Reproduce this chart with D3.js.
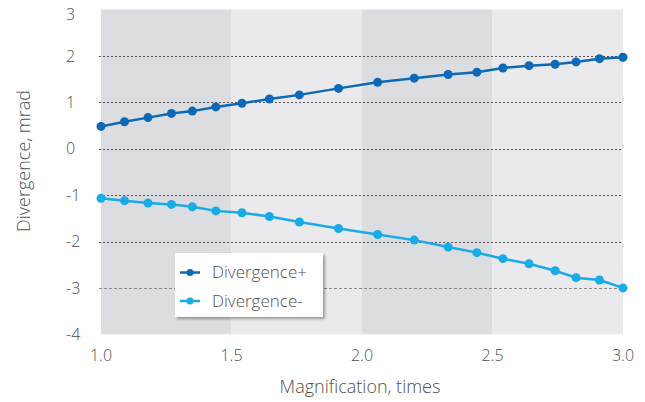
<!DOCTYPE html>
<html>
<head>
<meta charset="utf-8">
<script src="https://cdn.jsdelivr.net/npm/d3@7"></script>
<style>
    body { margin: 0; background: #fff; }
    text { font-family: "Open Sans", Lato, sans-serif; font-weight: 300; fill: #4f4f4f; }
</style>
</head>
<body>
<div id="chart"></div>
<script>
// magnification (times)
const magnification = [1.0, 1.09, 1.18, 1.27, 1.35, 1.44, 1.54, 1.645, 1.76, 1.91,
    2.06, 2.2, 2.33, 2.44, 2.54, 2.64, 2.74, 2.82, 2.91, 3.0];
// divergence, mrad
const divergencePlus = [0.48, 0.58, 0.67, 0.76, 0.81, 0.90, 0.98, 1.07, 1.16, 1.30,
    1.43, 1.52, 1.60, 1.65, 1.74, 1.79, 1.82, 1.87, 1.94, 1.97];
const divergenceMinus = [-1.07, -1.12, -1.17, -1.20, -1.25, -1.34, -1.38, -1.46, -1.58, -1.72,
    -1.85, -1.97, -2.12, -2.24, -2.37, -2.48, -2.63, -2.78, -2.83, -3.00];
const seriesNames = ["Divergence+", "Divergence-"];
const xTicks = [1.0, 1.5, 2.0, 2.5, 3.0];
const yTicks = [3, 2, 1, 0, -1, -2, -3, -4];
const bands = [[1.0, 1.5], [1.5, 2.0], [2.0, 2.5], [2.5, 3.0]];

const W = 645, H = 402;
const colors = ["#0b69b7", "#19aae8"];

const svg = d3.select("#chart").append("svg")
    .attr("width", W)
    .attr("height", H);

const x = d3.scaleLinear().domain([1, 3]).range([101, 623]);
const y = d3.scaleLinear().domain([-4, 3]).range([334.3, 9.5]);

// alternating background bands
svg.selectAll(".band")
    .data(bands)
    .enter().append("rect")
    .attr("class", "band")
    .attr("x", d => x(d[0]))
    .attr("width", d => x(d[1]) - x(d[0]))
    .attr("y", y(3))
    .attr("height", y(-4) - y(3))
    .attr("fill", (d, i) => i % 2 === 0 ? "#dcdde0" : "#eaeaec");

// dotted grid lines
svg.selectAll(".grid")
    .data(yTicks.filter(d => d < 3 && d > -4))
    .enter().append("line")
    .attr("class", "grid")
    .attr("x1", x(1) - 2)
    .attr("x2", x(3))
    .attr("y1", d => Math.round(y(d)) + 0.5)
    .attr("y2", d => Math.round(y(d)) + 0.5)
    .attr("stroke", d => d === -3 ? "#8a8a8a" : "#555")
    .attr("stroke-width", 1)
    .attr("stroke-dasharray", d => d === -3 ? "3,2" : "2,2");

// y tick labels (left aligned like the original, top one kept inside the page)
svg.selectAll(".ylab")
    .data(yTicks)
    .enter().append("text")
    .attr("class", "ylab")
    .attr("x", 66)
    .attr("y", d => Math.max(y(d), 14))
    .attr("dy", "0.35em")
    .style("font-size", "16px")
    .text(d => d);

// x tick labels
svg.selectAll(".xlab")
    .data(xTicks)
    .enter().append("text")
    .attr("class", "xlab")
    .attr("x", d => x(d))
    .attr("y", 355)
    .attr("dy", "0.35em")
    .attr("text-anchor", "middle")
    .style("font-size", "16px")
    .text(d => d.toFixed(1));

// axis titles
svg.append("text")
    .attr("x", 360)
    .attr("y", 387)
    .attr("dy", "0.35em")
    .attr("text-anchor", "middle")
    .style("font-size", "18px")
    .text("Magnification, times");

svg.append("text")
    .attr("transform", "translate(24,161) rotate(-90)")
    .attr("dy", "0.35em")
    .attr("text-anchor", "middle")
    .style("font-size", "18px")
    .text("Divergence, mrad");

// series
const series = [divergencePlus, divergenceMinus].map((vals, i) => ({
    name: seriesNames[i],
    color: colors[i],
    points: vals.map((v, j) => [magnification[j], v])
}));

const line = d3.line()
    .x(d => x(d[0]))
    .y(d => y(d[1]));

const g = svg.selectAll(".series")
    .data(series)
    .enter().append("g")
    .attr("class", "series");

g.append("path")
    .attr("d", d => line(d.points))
    .attr("fill", "none")
    .attr("stroke", d => d.color)
    .attr("stroke-width", 2.5);

g.selectAll("circle")
    .data(d => d.points.map(p => ({p: p, color: d.color})))
    .enter().append("circle")
    .attr("cx", d => x(d.p[0]))
    .attr("cy", d => y(d.p[1]))
    .attr("r", 4.5)
    .attr("fill", d => d.color);

// legend
const defs = svg.append("defs");
const filter = defs.append("filter").attr("id", "shadow")
    .attr("x", "-10%").attr("y", "-10%").attr("width", "130%").attr("height", "130%");
filter.append("feDropShadow")
    .attr("dx", 2).attr("dy", 2).attr("stdDeviation", 1.5)
    .attr("flood-color", "#000").attr("flood-opacity", 0.35);

const legend = svg.append("g").attr("transform", "translate(175,253)");
legend.append("rect")
    .attr("width", 148)
    .attr("height", 64)
    .attr("fill", "#fff")
    .attr("filter", "url(#shadow)");

const items = legend.selectAll(".item")
    .data(series)
    .enter().append("g")
    .attr("class", "item")
    .attr("transform", (d, i) => `translate(0, ${19.5 + i * 28.5})`);

items.append("line")
    .attr("x1", 5).attr("x2", 25)
    .attr("stroke", d => d.color)
    .attr("stroke-width", 2.5);
items.append("circle")
    .attr("cx", 15)
    .attr("r", 3.5)
    .attr("fill", d => d.color);
items.append("text")
    .attr("x", 37)
    .attr("dy", "0.35em")
    .style("font-size", "17px")
    .text(d => d.name);
</script>
</body>
</html>
